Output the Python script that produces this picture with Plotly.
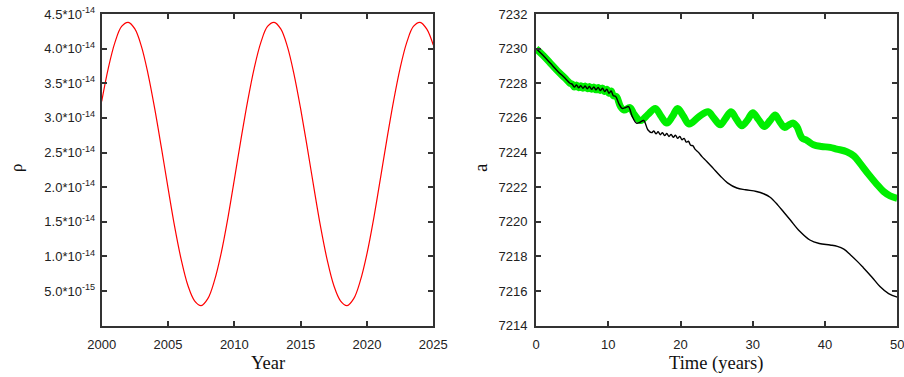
import plotly.graph_objects as go

# ---- left panel: rho vs year ----
years = [2000, 2000.5, 2001, 2001.5, 2002, 2002.5, 2003, 2003.5, 2004, 2004.5,
         2005, 2005.5, 2006, 2006.5, 2007, 2007.5, 2008, 2008.5, 2009, 2009.5,
         2010, 2010.5, 2011, 2011.5, 2012, 2012.5, 2013, 2013.5, 2014, 2014.5,
         2015, 2015.5, 2016, 2016.5, 2017, 2017.5, 2018, 2018.5, 2019, 2019.5,
         2020, 2020.5, 2021, 2021.5, 2022, 2022.5, 2023, 2023.5, 2024, 2024.5, 2025]
rho_e14 = [3.24, 3.72, 4.09, 4.32, 4.38, 4.285, 4.03, 3.63, 3.13, 2.57,
           1.99, 1.43, 0.95, 0.58, 0.36, 0.29, 0.39, 0.65, 1.04, 1.54,
           2.11, 2.69, 3.24, 3.72, 4.09, 4.32, 4.38, 4.285, 4.03, 3.63,
           3.13, 2.57, 1.99, 1.43, 0.95, 0.58, 0.36, 0.29, 0.39, 0.65,
           1.04, 1.54, 2.11, 2.69, 3.24, 3.72, 4.09, 4.32, 4.38, 4.285, 4.05]
rho = [v * 1e-14 for v in rho_e14]

rho_tickvals = [5e-15, 1e-14, 1.5e-14, 2e-14, 2.5e-14, 3e-14, 3.5e-14, 4e-14, 4.5e-14]
rho_ticktext = ["5.0*10<sup>-15</sup>", "1.0*10<sup>-14</sup>", "1.5*10<sup>-14</sup>",
                "2.0*10<sup>-14</sup>", "2.5*10<sup>-14</sup>", "3.0*10<sup>-14</sup>",
                "3.5*10<sup>-14</sup>", "4.0*10<sup>-14</sup>", "4.5*10<sup>-14</sup>"]

# ---- right panel: semi-major axis a vs time ----
t_black = [0, 1, 2, 3, 4, 4.7,
           5.0, 5.3, 5.6, 5.9, 6.2, 6.5, 6.8, 7.1, 7.4, 7.7, 8.0, 8.3, 8.6, 8.9, 9.2, 9.5,
           9.8, 10.1, 10.4, 10.7, 11.0,
           11.5, 11.9, 12.4, 12.8, 13.3, 13.9, 14.4, 14.9, 15.5, 16.0,
           16.3, 16.6, 16.9, 17.2, 17.5, 17.8, 18.1, 18.4, 18.7, 19.0, 19.3, 19.6, 19.9,
           20.2, 20.5, 20.8, 21.1, 21.4, 21.7, 22.0,
           22.5, 23.0, 23.6, 24.5, 25.5, 26.5, 27.8, 29.0, 30.5, 31.5, 32.4, 33.5, 34.3,
           35.2, 36.5, 37.9, 39.2, 40.7, 41.7, 42.6, 43.5, 44.5, 45.3, 46.5, 47.6, 48.8, 50.0]
a_black = [7230.0, 7229.6, 7229.15, 7228.7, 7228.3, 7228.0,
           7227.95, 7227.78, 7227.90, 7227.74, 7227.86, 7227.71, 7227.84, 7227.68, 7227.81,
           7227.65, 7227.79, 7227.62, 7227.76, 7227.58, 7227.72, 7227.52,
           7227.66, 7227.42, 7227.55, 7227.28, 7227.25,
           7226.8, 7226.55, 7226.6, 7226.65, 7226.1, 7225.7, 7225.75, 7225.85, 7225.3, 7225.15,
           7225.25, 7225.08, 7225.2, 7225.03, 7225.15, 7224.98, 7225.1, 7224.93, 7225.05,
           7224.88, 7225.0, 7224.82, 7224.93,
           7224.74, 7224.82, 7224.6, 7224.65, 7224.42, 7224.4, 7224.2,
           7224.0, 7223.75, 7223.5, 7223.1, 7222.65, 7222.25, 7221.95, 7221.85, 7221.75,
           7221.62, 7221.42, 7220.95, 7220.55,
           7220.1, 7219.45, 7218.95, 7218.75, 7218.66, 7218.58, 7218.42, 7218.1, 7217.7,
           7217.35, 7216.8, 7216.26, 7215.85, 7215.65]

t_green = [0, 1, 2, 3, 4, 4.7,
           5.0, 5.3, 5.6, 5.9, 6.2, 6.5, 6.8, 7.1, 7.4, 7.7, 8.0, 8.3, 8.6, 8.9, 9.2, 9.5,
           9.8, 10.1, 10.4, 10.7, 11.0,
           11.2, 11.7, 12.2, 13.0, 13.6, 14.5, 15.5, 16.5, 17.3, 18.1, 18.9, 19.6, 20.4,
           21.2, 22.5, 23.8, 24.6, 25.5, 26.2, 27.0, 27.7, 28.5, 29.3, 30.0, 30.8, 31.6,
           32.4, 33.1, 33.7, 34.4, 35.0, 35.6, 36.1, 36.8, 37.5, 38.4, 39.5, 40.7, 41.6,
           43.0, 44.0, 44.8, 46.0, 47.1, 48.1, 49.0, 50.0]
a_green = [7230.0, 7229.6, 7229.15, 7228.7, 7228.3, 7228.0,
           7227.95, 7227.78, 7227.90, 7227.74, 7227.86, 7227.71, 7227.84, 7227.68, 7227.81,
           7227.65, 7227.79, 7227.62, 7227.76, 7227.58, 7227.72, 7227.52,
           7227.66, 7227.42, 7227.55, 7227.28, 7227.25,
           7227.2, 7226.65, 7226.45, 7226.6, 7226.2, 7225.85, 7226.2, 7226.55, 7226.1,
           7225.7, 7226.1, 7226.55, 7226.1,
           7225.65, 7226.05, 7226.36, 7226.0, 7225.6, 7225.95, 7226.36, 7225.95, 7225.55,
           7225.9, 7226.3, 7225.9, 7225.5,
           7225.85, 7226.17, 7225.8, 7225.45, 7225.6, 7225.7, 7225.5, 7224.85, 7224.7,
           7224.45, 7224.35, 7224.3, 7224.2,
           7224.05, 7223.8, 7223.4, 7222.75, 7222.2, 7221.75, 7221.5, 7221.35]

fig = go.Figure()
fig.add_trace(go.Scatter(x=years, y=rho, mode="lines", line=dict(color="#ff0000", width=1.2, shape="spline"),
                         xaxis="x", yaxis="y", showlegend=False))
fig.add_trace(go.Scatter(x=t_green, y=a_green, mode="lines", line=dict(color="#00ee00", width=7, shape="spline"),
                         xaxis="x2", yaxis="y2", showlegend=False))
fig.add_trace(go.Scatter(x=t_black, y=a_black, mode="lines", line=dict(color="#000000", width=1.4, shape="spline"),
                         xaxis="x2", yaxis="y2", showlegend=False))

axis_common = dict(showline=True, linecolor="#333333", linewidth=2, mirror="ticks",
                   ticks="inside", ticklen=5, tickwidth=1.5, tickcolor="#333333",
                   showgrid=False, zeroline=False, automargin=False,
                   ticklabeloverflow="allow",
                   tickfont=dict(family="Liberation Sans, Arial, sans-serif", size=13, color="#222222"))

y_dom = [1 - 325.7 / 377, 1 - 14 / 377]
fig.update_layout(
    width=904, height=377, autosize=False,
    margin=dict(l=0, r=0, t=0, b=0, pad=0, autoexpand=False),
    paper_bgcolor="white", plot_bgcolor="white",
    xaxis=dict(domain=[101.7 / 904, 433.3 / 904], range=[2000, 2025], dtick=5, tick0=2000,
               anchor="y", ticklabelstandoff=6, **axis_common),
    yaxis=dict(domain=y_dom, range=[0, 4.5e-14], tickvals=rho_tickvals, ticktext=rho_ticktext,
               anchor="x", ticklabelstandoff=2, **axis_common),
    xaxis2=dict(domain=[536 / 904, 897.3 / 904], range=[0, 50], dtick=10, tick0=0,
                anchor="y2", ticklabelstandoff=6, **axis_common),
    yaxis2=dict(domain=y_dom, range=[7214, 7232], dtick=2, tick0=7214,
                anchor="x2", ticklabelstandoff=4, **axis_common),
)

serif = dict(family="Liberation Serif, Times New Roman, serif", size=18.5, color="#111111")
ann = [
    dict(text="Year", x=268 / 904, y=1 - 363 / 377, xref="paper", yref="paper",
         showarrow=False, font=serif, xanchor="center", yanchor="middle"),
    dict(text="Time (years)", x=716 / 904, y=1 - 363 / 377, xref="paper", yref="paper",
         showarrow=False, font=serif, xanchor="center", yanchor="middle"),
    dict(text="ρ", x=16 / 904, y=1 - 168 / 377, xref="paper", yref="paper", textangle=-90,
         showarrow=False, font=dict(family="Liberation Serif, Times New Roman, serif", size=17, color="#111111"),
         xanchor="center", yanchor="middle"),
    dict(text="a", x=480 / 904, y=1 - 168 / 377, xref="paper", yref="paper", textangle=-90,
         showarrow=False, font=dict(family="Liberation Serif, Times New Roman, serif", size=19, color="#111111"),
         xanchor="center", yanchor="middle"),
]
fig.update_layout(annotations=ann)

fig.write_html("out.html")
